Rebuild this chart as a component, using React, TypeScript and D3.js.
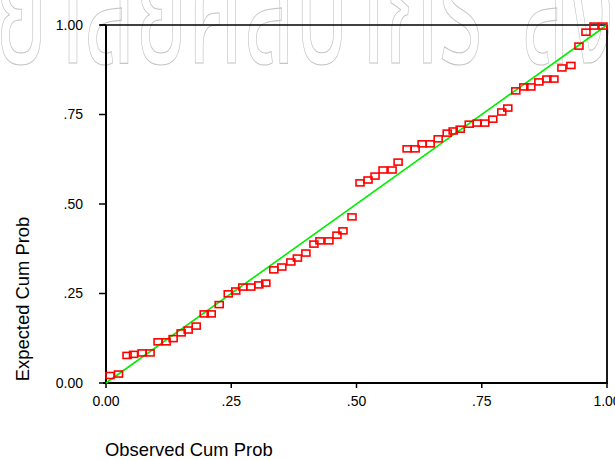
import React from "react";
import * as d3 from "d3";

const observed = [
  0.008, 0.025, 0.042, 0.055, 0.072, 0.088, 0.104, 0.12, 0.134, 0.15, 0.164, 0.18,
  0.196, 0.21, 0.226, 0.244, 0.259, 0.273, 0.289, 0.305, 0.319, 0.335, 0.351, 0.369,
  0.382, 0.399, 0.415, 0.427, 0.445, 0.461, 0.473, 0.491, 0.507, 0.523, 0.537, 0.553,
  0.571, 0.583, 0.601, 0.617, 0.631, 0.647, 0.663, 0.681, 0.693, 0.707, 0.725, 0.741,
  0.756, 0.772, 0.79, 0.802, 0.818, 0.834, 0.848, 0.864, 0.88, 0.894, 0.91, 0.928,
  0.944, 0.958, 0.974, 0.992,
];
const expected = [
  0.021, 0.025, 0.077, 0.08, 0.084, 0.084, 0.115, 0.115, 0.124, 0.14, 0.148, 0.159,
  0.193, 0.193, 0.219, 0.249, 0.257, 0.268, 0.268, 0.274, 0.279, 0.316, 0.324, 0.338,
  0.349, 0.363, 0.388, 0.397, 0.397, 0.413, 0.425, 0.464, 0.559, 0.567, 0.578, 0.595,
  0.595, 0.617, 0.654, 0.654, 0.668, 0.668, 0.682, 0.698, 0.704, 0.709, 0.723, 0.726,
  0.726, 0.737, 0.757, 0.768, 0.816, 0.827, 0.827, 0.841, 0.849, 0.849, 0.88, 0.887,
  0.941, 0.98, 0.997, 0.997,
];
const tickValues = [0, 0.25, 0.5, 0.75, 1];
const tickLabels = ["0.00", ".25", ".50", ".75", "1.00"];
const xTitle = "Observed Cum Prob";
const yTitle = "Expected Cum Prob";
const watermark1 = "ยาลัยศิลปากร";
const watermark2 = "สงวนลิขสิทธิ์";

const W = 615;
const H = 460;
const L = 106, R = 607, T = 25, B = 383;

export default function App() {
  const x = d3.scaleLinear().domain([0, 1]).range([L, R]);
  const y = d3.scaleLinear().domain([0, 1]).range([B, T]);
  const font = "'Liberation Sans', Arial, sans-serif";
  const pts = observed.map((o, i) => [o, expected[i]]);
  const sqW = 8, sqH = 6;
  return (
    <svg width={W} height={H} style={{ position: "absolute", left: 0, top: 0, background: "#fff" }}>
      <rect x={0} y={0} width={W} height={H} fill="#fff" />
      <g fill="none" stroke="#c4c4c4" strokeWidth={1.1} fontFamily="'Noto Sans Thai', 'Noto Sans', sans-serif" fontSize={165}>
        <text x={-5} y={63} textLength={487} lengthAdjust="spacingAndGlyphs">{watermark1}</text>
        <text x={522} y={63} textLength={420} lengthAdjust="spacingAndGlyphs">{watermark2}</text>
      </g>
      {/* frame */}
      <line x1={100} x2={R} y1={T} y2={T} stroke="#000" strokeWidth={1.5} />
      <line x1={R} x2={R} y1={T} y2={B} stroke="#000" strokeWidth={1.8} />
      <line x1={L} x2={L} y1={T} y2={B + 1} stroke="#000" strokeWidth={2} />
      <line x1={103} x2={R + 1} y1={B} y2={B} stroke="#000" strokeWidth={1.8} />
      {/* y ticks */}
      {tickValues.map((v, i) => (
        <g key={"y" + i}>
          <line x1={99} x2={L} y1={y(v)} y2={y(v)} stroke="#000" strokeWidth={1.5} />
          <text x={83} y={y(v)} dy="0.35em" textAnchor="end" fontFamily={font} fontSize={14} fill="#000">
            {tickLabels[i]}
          </text>
        </g>
      ))}
      {/* x ticks */}
      {tickValues.map((v, i) => (
        <g key={"x" + i}>
          <line x1={x(v)} x2={x(v)} y1={B} y2={B + 5} stroke="#000" strokeWidth={1.5} />
          <text x={x(v)} y={406} textAnchor="middle" fontFamily={font} fontSize={14} fill="#000">
            {tickLabels[i]}
          </text>
        </g>
      ))}
      {/* reference line */}
      <line x1={x(0)} y1={y(0)} x2={x(1)} y2={y(1)} stroke="#00ee00" strokeWidth={1.6} />
      {/* points */}
      {pts.map((p, i) => (
        <rect
          key={i}
          x={x(p[0]) - sqW / 2}
          y={y(p[1]) - sqH / 2}
          width={sqW}
          height={sqH}
          fill="none"
          stroke="#ff0000"
          strokeWidth={1.6}
        />
      ))}
      <text x={105} y={456} fontFamily={font} fontSize={18.4} fill="#000">{xTitle}</text>
      <text transform={`translate(29,${(215 + 383) / 2}) rotate(-90)`} textAnchor="middle" fontFamily={font} fontSize={18.4} fill="#000">
        {yTitle}
      </text>
    </svg>
  );
}
